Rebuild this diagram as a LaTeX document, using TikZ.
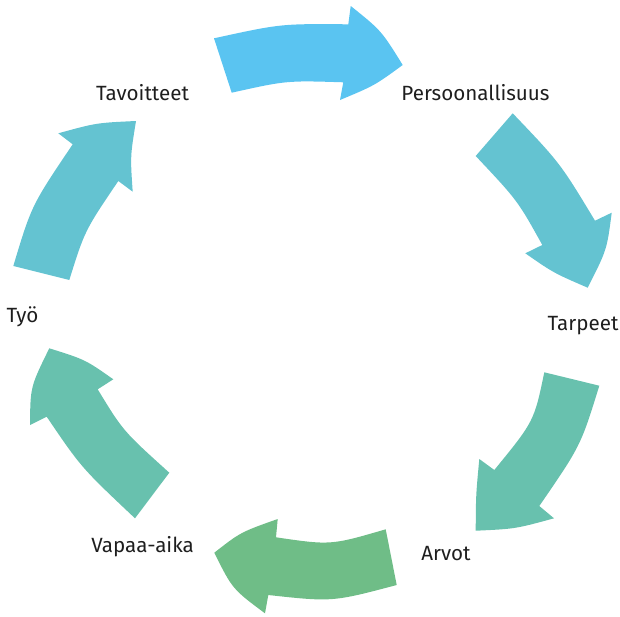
\documentclass[tikz,border=0pt]{standalone}
\usepackage{fontspec}
\setmainfont{Fira Sans}
\usetikzlibrary{calc}
\definecolor{cBlue}{HTML}{5AC4F1}
\definecolor{cTeal}{HTML}{64C3D1}
\definecolor{cSea}{HTML}{68C1AE}
\definecolor{cGreen}{HTML}{6FBD87}
\definecolor{cText}{HTML}{1E1E1E}
\tikzset{
  lbl/.style={anchor=base, inner sep=0pt, font=\fontsize{20.6}{24}\selectfont, text=cText},
}
\begin{document}
\begin{tikzpicture}[x=1pt,y=-1pt]
\useasboundingbox (0,0) rectangle (620,616);
% labels
\node[lbl] (tav) at (142.5,100) {Tavoitteet};
\node[lbl] (per) at (475.5,100.7) {Persoonallisuus};
\node[lbl] (tar) at (583,330.7) {Tarpeet};
\node[lbl] (arv) at (446,560.7) {Arvot};
\node[lbl] (vap) at (142.5,552.7) {Vapaa-aika};
\node[lbl] (tyo) at (22.5,322) {Työ};
% arrow 1: Tavoitteet -> Persoonallisuus
\fill[cBlue] (214,38.3) .. controls (280.85,23.7) .. (348.3,24.3) -- (350.7,6)
  .. controls (381.3,30.5) .. (402.7,65) .. controls (374.65,85.5) .. (340,100)
  -- (343.3,82.3) .. controls (286.5,80.5) .. (231.7,92.7) -- cycle;
% arrow 2: Persoonallisuus -> Tarpeet
\fill[cTeal] (512.7,113.3) .. controls (560.15,163) .. (595,220.7) -- (611.7,212.7)
  .. controls (606.9,249.8) .. (587.7,287.7) .. controls (553.5,272.9) .. (525.3,253.3)
  -- (542.3,245) .. controls (517.6,200.5) .. (475.7,156) -- cycle;
% arrow 3: Tarpeet -> Arvot
\fill[cSea] (599.3,385.7) .. controls (580.7,445.75) .. (539.3,506) -- (554,518.3)
  .. controls (515.15,528.9) .. (475.7,530.7) .. controls (475.9,495.15) .. (479.3,459)
  -- (494.3,470) .. controls (534.1,421.25) .. (544.3,372.3) -- cycle;
% arrow 4: Arvot -> Vapaa-aika
\fill[cGreen] (396.7,585) .. controls (332.5,602) .. (268.3,595) -- (265,613.3)
  .. controls (232.35,589) .. (214.3,552.7) .. controls (240.6,532.15) .. (277.7,519)
  -- (276,537.3) .. controls (330.75,545.3) .. (385.7,529.3) -- cycle;
% arrow 5: Vapaa-aika -> Tyo
\fill[cSea] (135,518.3) .. controls (81.15,467.5) .. (46.7,416.7) -- (30,425)
  .. controls (30.35,386.75) .. (49.3,348.3) .. controls (85.3,359.6) .. (113.3,379.3)
  -- (97.7,389.3) .. controls (123.1,431) .. (169.3,472.7) -- cycle;
% arrow 6: Tyo -> Tavoitteet
\fill[cTeal] (13.3,266) .. controls (31.6,205.25) .. (72.7,144.3) -- (58.3,133.3)
  .. controls (96.25,122.85) .. (136,121) .. controls (130.25,156.25) .. (132.7,191.7)
  -- (118.3,181) .. controls (84.8,230.5) .. (69.3,280) -- cycle;
\end{tikzpicture}
\end{document}
